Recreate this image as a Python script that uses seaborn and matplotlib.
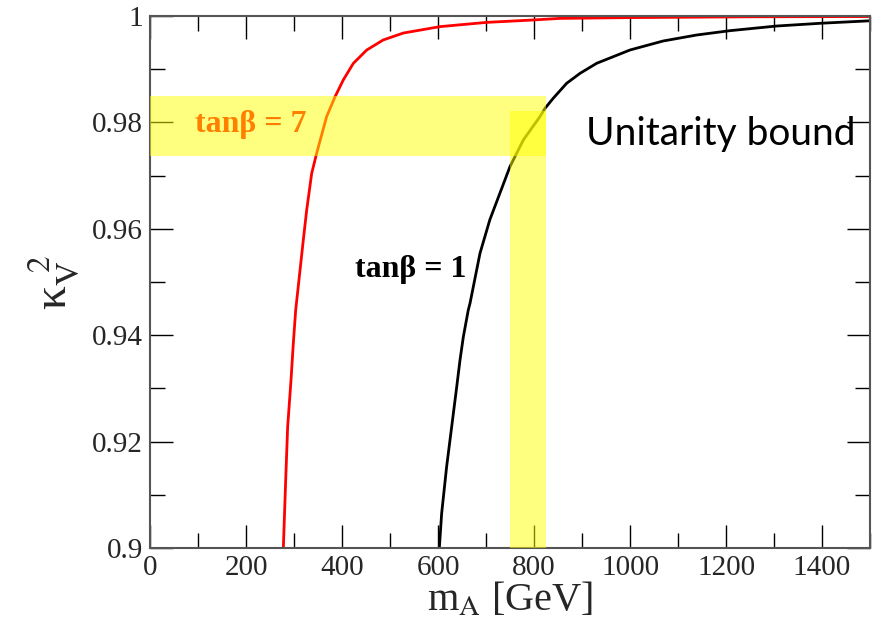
import pandas as pd
import matplotlib
matplotlib.use("Agg")
import matplotlib.pyplot as plt
import seaborn as sns
from matplotlib.patches import Rectangle
from matplotlib.ticker import MultipleLocator

# curve for tan(beta) = 7 (red)
ma_tb7 = [277.8, 282.7, 286.8, 293.8, 298.6, 303.5, 319.4, 326.4, 336.8, 347.2,
          368.0, 385.4, 402.8, 423.6, 451.4, 486.0, 527.8, 604.0, 701.0, 798.0,
          854.0, 1000.0, 1250.0, 1500.0]
kv2_tb7 = [0.900, 0.9128, 0.9228, 0.9316, 0.9385, 0.9447, 0.9579, 0.9635, 0.9704, 0.9742,
           0.9811, 0.9848, 0.9880, 0.9911, 0.9936, 0.9955, 0.9968, 0.9980, 0.9988, 0.99925,
           0.99955, 0.9997, 0.99985, 0.9999]

# curve for tan(beta) = 1 (black)
ma_tb1 = [602.8, 607.6, 618.0, 625.0, 632.0, 639.0, 645.8, 652.8, 663.0, 666.7,
          687.5, 708.0, 729.0, 750.0, 777.8, 812.5, 823.0, 840.0, 868.0, 896.0,
          930.6, 1000.0, 1069.0, 1139.0, 1208.0, 1306.0, 1400.0, 1500.0]
kv2_tb1 = [0.900, 0.9065, 0.9153, 0.9203, 0.9253, 0.9303, 0.9353, 0.9397, 0.9447, 0.9460,
           0.9554, 0.9617, 0.9667, 0.9717, 0.9767, 0.9811, 0.98265, 0.98453, 0.98735, 0.98923,
           0.99111, 0.99361, 0.9953, 0.99643, 0.99724, 0.99812, 0.99865, 0.9991]

# highlighted bands: (x0, x1, y0, y1)
hband = (0, 825, 0.9737, 0.9850)
vband = (750, 826, 0.900, 0.9821)

df7 = pd.DataFrame({"mA": ma_tb7, "kv2": kv2_tb7})
df1 = pd.DataFrame({"mA": ma_tb1, "kv2": kv2_tb1})

sns.set_theme(style="ticks")
plt.rcParams["font.family"] = ["Liberation Serif", "DejaVu Serif"]
plt.rcParams["mathtext.fontset"] = "stix"

fig = plt.figure(figsize=(8.77, 6.3), dpi=100)
ax = fig.add_axes([150 / 877, 82 / 630, 720 / 877, 532 / 630])

sns.lineplot(data=df7, x="mA", y="kv2", color="red", linewidth=2.0,
             sort=False, estimator=None, ax=ax, zorder=2)
sns.lineplot(data=df1, x="mA", y="kv2", color="black", linewidth=2.0,
             sort=False, estimator=None, ax=ax, zorder=2)

for x0, x1, y0, y1 in (hband, vband):
    ax.add_patch(Rectangle((x0, y0), x1 - x0, y1 - y0, facecolor="#ffff00",
                           edgecolor="none", alpha=0.5, zorder=4))

ax.text(94, 0.9782, "tanβ = 7", color="red", fontsize=23, fontweight="bold",
        va="baseline", ha="left", zorder=3)
ax.text(427, 0.9510, "tanβ = 1", color="black", fontsize=23, fontweight="bold",
        va="baseline", ha="left", zorder=3)
ax.text(908, 0.97575, "Unitarity bound", color="black", fontsize=28,
        family=["Lato", "DejaVu Sans"], va="baseline", ha="left", zorder=5)

ax.set_xlim(0, 1500)
ax.set_ylim(0.9, 1.0)
ax.xaxis.set_major_locator(MultipleLocator(200))
ax.xaxis.set_minor_locator(MultipleLocator(100))
ax.yaxis.set_minor_locator(MultipleLocator(0.01))
ax.set_yticks([0.9, 0.92, 0.94, 0.96, 0.98, 1.0])
ax.set_yticklabels(["0.9", "0.92", "0.94", "0.96", "0.98", "1"])

ax.tick_params(which="both", direction="in", top=True, right=True,
               color="black", width=1.0, labelsize=21, pad=5)
ax.tick_params(which="major", length=16.5)
ax.tick_params(which="minor", length=10.5)
for s in ax.spines.values():
    s.set_color("#555555")
    s.set_linewidth(1.5)

ax.set_xlabel(r"m$_{\mathrm{A}}$ [GeV]", fontsize=29, labelpad=0)
ax.set_ylabel(r"κ$_{\mathrm{V}}^{\;\;2}$", fontsize=34, labelpad=8)

fig.savefig("out.png", dpi=100)
